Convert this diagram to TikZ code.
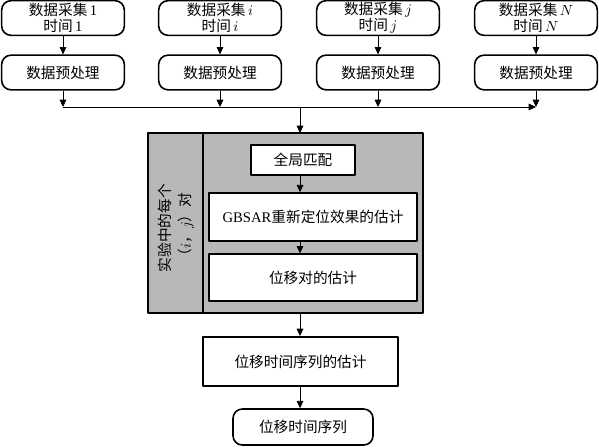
\documentclass[tikz,border=0pt]{standalone}
\usepackage{fontspec}
\setmainfont{Liberation Serif}
\newfontfamily\cjk{Noto Sans CJK SC}
\newcommand\lat{\rmfamily}
\usetikzlibrary{arrows.meta}
\tikzset{
  base/.style={draw,line width=1.2pt,align=center,inner sep=1pt,
    font=\cjk\fontsize{11}{12}\selectfont},
  rbox/.style={base,rounded corners=7pt,minimum width=92pt,minimum height=26pt},
  sbox/.style={base,fill=white},
  flow/.style={line width=.6pt,-{Triangle[length=5.5pt,width=5pt]}},
}
\begin{document}
\begin{tikzpicture}[x=.75pt,y=-.75pt,line join=round]
  \useasboundingbox (0,0) rectangle (599,447);
  \node[rbox] (acq1) at (63,18) {数据采集\lat\,1\\时间\lat\,1};
  \node[rbox] (acqi) at (220,18) {数据采集\,$i$\\时间\,$i$};
  \node[rbox] (acqj) at (378,18) {数据采集\,$j$\\时间\,$j$};
  \node[rbox] (acqN) at (536,18) {数据采集\,$N$\\时间\,$N$};
  \foreach \n/\x in {1/63,i/220,j/378,N/536}{
    \node[rbox] (pre\n) at (\x,72.5) {数据预处理};
    \coordinate (bus\n) at (\x,107);
    \draw[flow] (acq\n) -- (pre\n);
    \draw[flow] (pre\n) -- (bus\n);
  }
  \draw[flow] (bus1) -- (busN);
  \node[draw,line width=1.2pt,fill=black!28,minimum width=206.25pt,minimum height=135pt] (grp) at (285.5,223) {};
  \draw[line width=1.2pt] (203,133) -- (203,313);
  \node[rotate=90,align=center,font=\cjk\fontsize{11}{15}\selectfont] (pairlbl) at (176,228) {实验中的每个\\（$i$，$j$）对};
  \coordinate (top) at (300,107);
  \coordinate (grptop) at (300,133);
  \coordinate (grpbot) at (300,313);
  \node[sbox,minimum width=78pt,minimum height=22.5pt] (match) at (303,160) {全局匹配};
  \node[sbox,minimum width=156pt,minimum height=36pt] (reloc) at (313,217) {{\lat GBSAR}重新定位效果的估计};
  \node[sbox,minimum width=156pt,minimum height=35pt] (pairest) at (313,277.5) {位移对的估计};
  \node[sbox,minimum width=146pt,minimum height=37pt] (seqest) at (300.5,361.5) {位移时间序列的估计};
  \node[rbox,minimum width=105pt,minimum height=27pt] (seq) at (303,427) {位移时间序列};
  \draw[flow] (top) -- (grptop);
  \draw[flow] (match.south -| top) -- (reloc.north -| top);
  \draw[flow] (reloc.south -| top) -- (pairest.north -| top);
  \draw[flow] (grpbot) -- (seqest.north -| top);
  \draw[flow] (seqest.south -| top) -- (seq.north -| top);
\end{tikzpicture}
\end{document}
